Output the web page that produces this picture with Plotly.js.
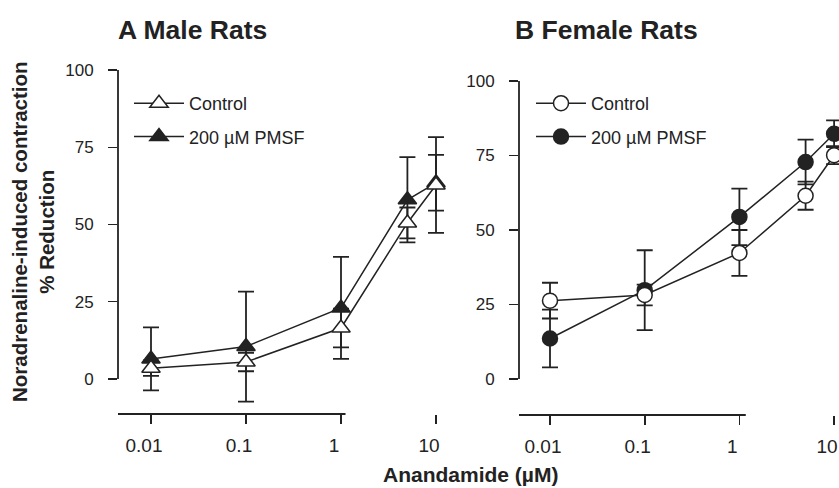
<!DOCTYPE html>
<html>
<head>
<meta charset="utf-8">
<script src="https://cdn.plot.ly/plotly-3.0.1.min.js"></script>
<style>
html,body{margin:0;padding:0;overflow:hidden;background:#fff;width:839px;height:488px;}
#chart{width:880px;height:488px;}
</style>
</head>
<body>
<div id="chart"></div>
<script>
// Data
const doses = [0.01, 0.1, 1, 5, 10];
const tickVals = [0.01, 0.1, 1, 10];
const tickText = ["0.01", "0.1", "1", "10"];
const yTickVals = [0, 25, 50, 75, 100];
const maleControl = [3.5, 5.5, 16.5, 50.5, 62.8];
const maleControlErr = [2.5, 3, 6.3, 5, 15.5];
const malePMSF = [6.5, 10.5, 23, 58, 63.5];
const malePMSFErr = [10.2, 17.8, 16.5, 13.8, 9];
const femaleControl = [26.3, 28.2, 42.3, 61.5, 75.1];
const femaleControlErr = [6, 3.5, 7.7, 4.7, 3];
const femalePMSF = [13.6, 29.8, 54.4, 72.8, 82.3];
const femalePMSFErr = [9.7, 13.4, 9.5, 7.5, 4.5];
const seriesNames = ["Control", "200 \u00b5M PMSF"];

const W = 880, H = 488;
const ink = "#222";
const FONT = "Liberation Sans, Arial, Helvetica, sans-serif";

function trace(y, err, name, xa, ya, symbol, filled, legend, group, rank) {
  return {
    x: doses, y: y, name: name, type: "scatter", mode: "lines+markers",
    xaxis: xa, yaxis: ya, legend: legend, legendgroup: group, legendrank: rank, cliponaxis: false,
    line: {color: ink, width: 1.5},
    marker: {symbol: symbol, size: symbol.indexOf("triangle") === 0 ? 16 : 15,
             color: filled ? ink : "#fff", line: {color: ink, width: 1.5}},
    error_y: {type: "data", array: err, visible: true, color: ink, thickness: 1.8, width: 8}
  };
}

const data = [
  trace(malePMSF, malePMSFErr, seriesNames[1], "x", "y", "triangle-up", true, "legend", "mp", 2),
  trace(maleControl, maleControlErr, seriesNames[0], "x", "y", "triangle-up", false, "legend", "mc", 1),
  trace(femalePMSF, femalePMSFErr, seriesNames[1], "x2", "y2", "circle", true, "legend2", "fp", 2),
  trace(femaleControl, femaleControlErr, seriesNames[0], "x2", "y2", "circle", false, "legend2", "fc", 1)
];

function xaxisDef(d0, d1, r0, r1, anchor) {
  return {type: "log", domain: [d0 / W, d1 / W], range: [r0, r1], anchor: anchor,
    tickvals: tickVals, ticktext: tickText, ticks: "outside", ticklen: 9, tickwidth: 1.8,
    tickcolor: ink, showline: false, showgrid: false, zeroline: false,
    tickfont: {family: FONT, size: 19, color: ink}, ticklabelstandoff: 5, ticklabelshift: -7};
}
function yaxisDef(top, bottom, r0, anchor) {
  return {domain: [1 - bottom / H, 1 - top / H], range: [r0, 100], anchor: anchor,
    tickvals: yTickVals, ticks: "outside", ticklen: 9, tickwidth: 1.5, tickcolor: ink,
    showline: false, showgrid: false, zeroline: false,
    tickfont: {family: FONT, size: 17, color: ink}, ticklabelstandoff: 11};
}

const legendBase = {xanchor: "left", yanchor: "top", traceorder: "grouped",
  tracegroupgap: 7, itemwidth: 50, bgcolor: "rgba(0,0,0,0)",
  font: {family: FONT, size: 18, color: ink}};

const layout = {
  width: W, height: H, margin: {l: 0, r: 0, t: 0, b: 0},
  paper_bgcolor: "#fff", plot_bgcolor: "#fff",
  font: {family: FONT, color: ink},
  xaxis: xaxisDef(118, 447, -2.3474, 1.1158, "y"),
  yaxis: yaxisDef(70, 414, -11.33, "x"),
  xaxis2: xaxisDef(519, 850, -2.3273, 1.1679, "y2"),
  yaxis2: yaxisDef(81, 415, -12.08, "x2"),
  legend: Object.assign({}, legendBase, {x: 129 / W, y: 1 - 85 / H}),
  legend2: Object.assign({}, legendBase, {x: 531 / W, y: 1 - 85 / H}),
  shapes: [
    {type: "line", xref: "x", yref: "y domain", x0: -2, x1: 1.1158, y0: 0, y1: 0, line: {color: ink, width: 1.8}},
    {type: "line", xref: "x domain", yref: "y", x0: 0, x1: 0, y0: 0, y1: 100, line: {color: ink, width: 1.8}},
    {type: "line", xref: "x2", yref: "y2 domain", x0: -2, x1: 1.1679, y0: 0, y1: 0, line: {color: ink, width: 1.8}},
    {type: "line", xref: "x2 domain", yref: "y2", x0: 0, x1: 0, y0: 0, y1: 100, line: {color: ink, width: 1.8}}
  ],
  annotations: [
    {text: "<b>A Male Rats</b>", xref: "paper", yref: "paper", x: 116 / W, y: 1 - 30 / H,
     xanchor: "left", yanchor: "middle", showarrow: false, font: {family: FONT, size: 26.5, color: ink}},
    {text: "<b>B Female Rats</b>", xref: "paper", yref: "paper", x: 513 / W, y: 1 - 30 / H,
     xanchor: "left", yanchor: "middle", showarrow: false, font: {family: FONT, size: 26.5, color: ink}},
    {text: "<b>Anandamide (\u00b5M)</b>", xref: "paper", yref: "paper", x: 470 / W, y: 1 - 474 / H,
     xanchor: "center", yanchor: "middle", showarrow: false, font: {family: FONT, size: 21, color: ink}},
    {text: "<b>Noradrenaline-induced contraction<br>% Reduction</b>", xref: "paper", yref: "paper",
     x: 33 / W, y: 1 - 232 / H, xanchor: "center", yanchor: "middle", textangle: -90,
     showarrow: false, font: {family: FONT, size: 20.5, color: ink}}
  ],
  showlegend: true
};

Plotly.newPlot("chart", data, layout, {staticPlot: true, displayModeBar: false});
</script>
</body>
</html>
